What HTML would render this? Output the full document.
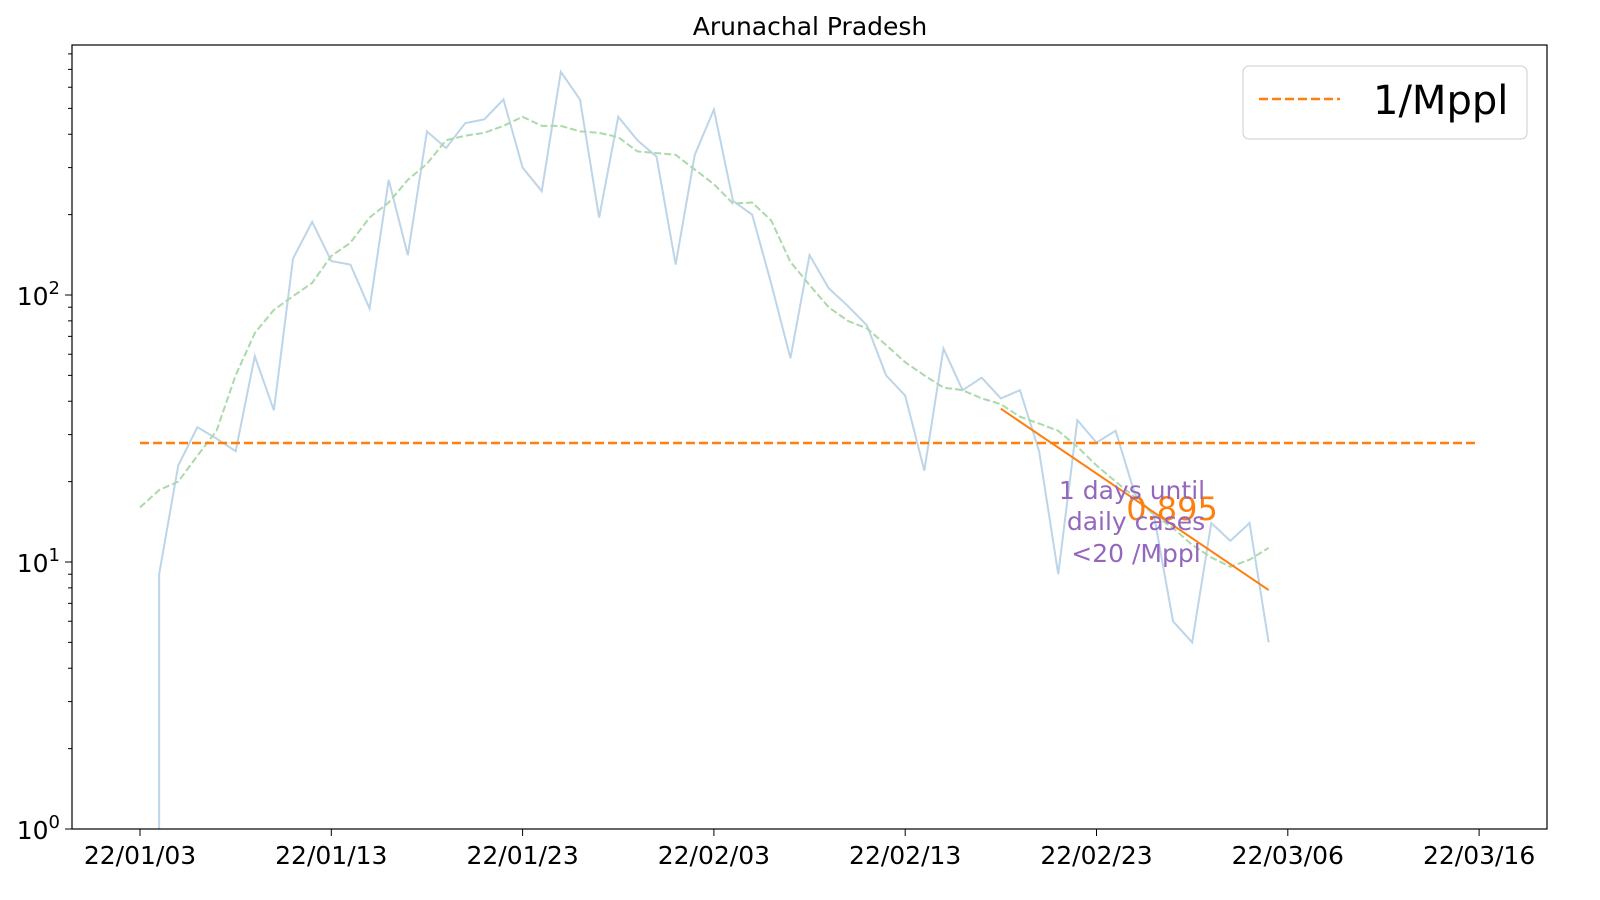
<!DOCTYPE html>
<html><head><meta charset="utf-8"><style>
html,body{margin:0;padding:0;background:#fff;width:1600px;height:900px;overflow:hidden}
svg{display:block;font-family:"DejaVu Sans","Liberation Sans",sans-serif}
</style></head><body>
<svg id="chart" width="1600" height="900" xmlns="http://www.w3.org/2000/svg">
<defs><clipPath id="cp"><rect x="72" y="45" width="1475" height="784"/></clipPath></defs>
<rect width="1600" height="900" fill="#fff"/>
<text x="810" y="35" font-size="25" text-anchor="middle" fill="#000">Arunachal Pradesh</text>
<g id="series" clip-path="url(#cp)"></g>
<rect x="72" y="45" width="1475" height="784" fill="none" stroke="#000" stroke-width="1.2"/>
<g id="axes"></g>
<text x="1172" y="520" font-size="32" text-anchor="middle" fill="#ff7f0e">0.895</text>
<text font-size="25" text-anchor="middle" fill="#9467bd">
<tspan x="1132" y="499">1 days until</tspan><tspan x="1136" y="530">daily cases</tspan><tspan x="1136" y="562">&lt;20 /Mppl</tspan></text>
<g>
<rect x="1243" y="66" width="284" height="73" rx="6" fill="#fff" stroke="#ccc"/>
<line x1="1259" y1="99" x2="1340" y2="99" stroke="#ff7f0e" stroke-width="2.5" stroke-dasharray="9,4"/>
<text x="1373" y="114" font-size="40" fill="#000">1/Mppl</text>
</g>
</svg>
<script>
const xLabels=["22/01/03","22/01/13","22/01/23","22/02/03","22/02/13","22/02/23","22/03/06","22/03/16"];
const daily=[0,9,23,32,29,26,59,37,137,188,134,130,89,270,141,410,355,440,455,540,300,245,685,540,195,465,380,330,130,335,495,225,200,110,58,141,106,91,77,50,42,22,63,44,49,41,44,26,9,34,28,31,18,15,6,5,14,12,14,5];
const avg7=[16,18.6,20,25,31,50,72,88,99,111,140,157,195,222,270,310,380,395,405,430,465,430,430,410,405,390,345,340,335,295,260,220,222,190,133,109,90,80,75,65,56,50,45,44,41,39,35,33,31,27,23,20,17.5,15,13.4,11.6,10.4,9.6,10.2,11.3];
const threshold=27.9;
const fitStart=[45,37.5];
const fitEnd=[59,7.85];
const NS="http://www.w3.org/2000/svg";
const X=i=>140+i*19.13;
const Y=v=>829-267*Math.log10(v);
function mk(t,a,p){const e=document.createElementNS(NS,t);for(const k in a)e.setAttribute(k,a[k]);p.appendChild(e);return e;}
const S=document.getElementById('series'),A=document.getElementById('axes');
let d='',pendingZero=false,started=false;
daily.forEach((v,i)=>{
 if(v<=0){pendingZero=true;return;}
 if(pendingZero){d+='M'+X(i)+',845L'+X(i)+','+Y(v);pendingZero=false;started=true;return;}
 d+=(started?'L':'M')+X(i)+','+Y(v);started=true;});
const l1=mk('path',{d:d,fill:'none',stroke:'#bcd5e8','stroke-width':2},S);


let d2='';avg7.forEach((v,i)=>{d2+=(i?'L':'M')+X(i)+','+Y(v);});
const l2=mk('path',{d:d2,fill:'none',stroke:'#abd9ab','stroke-width':2,'stroke-dasharray':'7,3'},S);


const l3=mk('line',{x1:X(0),x2:X(70),y1:Y(threshold),y2:Y(threshold),stroke:'#ff7f0e','stroke-width':2.5,'stroke-dasharray':'9,4'},S);


const l4=mk('line',{x1:X(fitStart[0]),y1:Y(fitStart[1]),x2:X(fitEnd[0]),y2:Y(fitEnd[1]),stroke:'#ff7f0e','stroke-width':2},S);


xLabels.forEach((s,i)=>{const x=X(i*10);
mk('line',{x1:x,x2:x,y1:829,y2:836,stroke:'#000'},A);
const t=mk('text',{x:x,y:864,'font-size':25,'text-anchor':'middle',fill:'#000'},A);t.textContent=s;

});
[0,1,2].forEach(p=>{const y=Y(Math.pow(10,p));
mk('line',{x1:65,x2:72,y1:y,y2:y,stroke:'#000'},A);
const t=mk('text',{x:60,y:y+10,'font-size':25,'text-anchor':'end',fill:'#000'},A);
t.innerHTML='10<tspan dy="-11" font-size="18">'+p+'</tspan>';


for(let m=2;m<10;m++){const v=m*Math.pow(10,p);if(v>864)break;const ym=Y(v);mk('line',{x1:68,x2:72,y1:ym,y2:ym,stroke:'#000'},A);}});
</script>
</body></html>
